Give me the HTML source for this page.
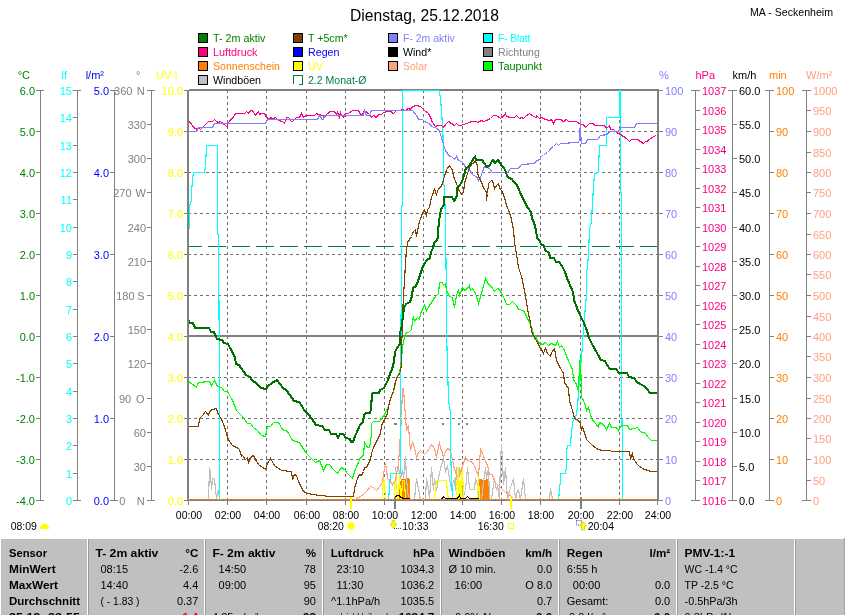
<!DOCTYPE html><html><head><meta charset="utf-8"><title>Dienstag, 25.12.2018</title><style>
html,body{margin:0;padding:0;background:#fff;width:845px;height:615px;overflow:hidden}
svg{display:block;will-change:transform;font-family:"Liberation Sans",Arial,sans-serif;font-size:11px}
</style></head><body>
<svg width="845" height="615" viewBox="0 0 845 615">
<text x="350" y="20.5" fill="#000" font-size="16" textLength="149" lengthAdjust="spacingAndGlyphs">Dienstag, 25.12.2018</text>
<text x="750" y="16" fill="#000" font-size="11.5" textLength="83" lengthAdjust="spacingAndGlyphs">MA - Seckenheim</text>
<g shape-rendering="crispEdges">
<rect x="198.5" y="33.5" width="9" height="9" fill="#008000" stroke="#000"/>
<rect x="198.5" y="47.5" width="9" height="9" fill="#FF0080" stroke="#000"/>
<rect x="198.5" y="61.5" width="9" height="9" fill="#FF8000" stroke="#000"/>
<rect x="198.5" y="75.5" width="9" height="9" fill="#C0C0C0" stroke="#000"/>
<rect x="293.5" y="33.5" width="9" height="9" fill="#804000" stroke="#000"/>
<rect x="293.5" y="47.5" width="9" height="9" fill="#0000FF" stroke="#000"/>
<rect x="293.5" y="61.5" width="9" height="9" fill="#FFFF00" stroke="#000"/>
<path d="M293.5 84V75.5H302.5V84.5H299" fill="none" stroke="#008040"/>
<rect x="388.5" y="33.5" width="9" height="9" fill="#8080FF" stroke="#000"/>
<rect x="388.5" y="47.5" width="9" height="9" fill="#000000" stroke="#000"/>
<rect x="388.5" y="61.5" width="9" height="9" fill="#FFA080" stroke="#000"/>
<rect x="483.5" y="33.5" width="9" height="9" fill="#00FFFF" stroke="#000"/>
<rect x="483.5" y="47.5" width="9" height="9" fill="#808080" stroke="#000"/>
<rect x="483.5" y="61.5" width="9" height="9" fill="#00FF00" stroke="#000"/>
</g>
<text x="213" y="42" fill="#008000" textLength="52.5" lengthAdjust="spacingAndGlyphs">T- 2m aktiv</text>
<text x="213" y="56" fill="#FF0080" textLength="44.5" lengthAdjust="spacingAndGlyphs">Luftdruck</text>
<text x="213" y="70" fill="#FF8000" textLength="67" lengthAdjust="spacingAndGlyphs">Sonnenschein</text>
<text x="213" y="84" fill="#000000" textLength="48" lengthAdjust="spacingAndGlyphs">Windböen</text>
<text x="308" y="42" fill="#008000" textLength="39.6" lengthAdjust="spacingAndGlyphs">T +5cm*</text>
<text x="308" y="56" fill="#0000FF" textLength="31.5" lengthAdjust="spacingAndGlyphs">Regen</text>
<text x="308" y="70" fill="#FFFF00" textLength="15" lengthAdjust="spacingAndGlyphs">UV</text>
<text x="308" y="84" fill="#008040" textLength="58.5" lengthAdjust="spacingAndGlyphs">2.2 Monat-Ø</text>
<text x="403" y="42" fill="#8080FF" textLength="51.7" lengthAdjust="spacingAndGlyphs">F- 2m aktiv</text>
<text x="403" y="56" fill="#000000" textLength="28.3" lengthAdjust="spacingAndGlyphs">Wind*</text>
<text x="403" y="70" fill="#FFA080" textLength="24.5" lengthAdjust="spacingAndGlyphs">Solar</text>
<text x="498" y="42" fill="#00FFFF" textLength="32.4" lengthAdjust="spacingAndGlyphs">F- Blatt</text>
<text x="498" y="56" fill="#808080" textLength="41.8" lengthAdjust="spacingAndGlyphs">Richtung</text>
<text x="498" y="70" fill="#008000" textLength="44" lengthAdjust="spacingAndGlyphs">Taupunkt</text>
<g shape-rendering="crispEdges">
<path d="M40.5 90V501" stroke="#808080" stroke-width="1"/>
<path d="M36 90.5H40" stroke="#808080" stroke-width="1"/>
<path d="M36 131.5H40" stroke="#808080" stroke-width="1"/>
<path d="M36 172.5H40" stroke="#808080" stroke-width="1"/>
<path d="M36 213.5H40" stroke="#808080" stroke-width="1"/>
<path d="M36 254.5H40" stroke="#808080" stroke-width="1"/>
<path d="M36 295.5H40" stroke="#808080" stroke-width="1"/>
<path d="M36 336.5H40" stroke="#808080" stroke-width="1"/>
<path d="M36 377.5H40" stroke="#808080" stroke-width="1"/>
<path d="M36 418.5H40" stroke="#808080" stroke-width="1"/>
<path d="M36 459.5H40" stroke="#808080" stroke-width="1"/>
<path d="M36 500.5H40" stroke="#808080" stroke-width="1"/>
<path d="M36 90.5H44" stroke="#808080" stroke-width="1"/>
<path d="M36 500.5H44" stroke="#808080" stroke-width="1"/>
<path d="M77.5 90V501" stroke="#808080" stroke-width="1"/>
<path d="M73 90.5H77" stroke="#808080" stroke-width="1"/>
<path d="M73 117.5H77" stroke="#808080" stroke-width="1"/>
<path d="M73 145.5H77" stroke="#808080" stroke-width="1"/>
<path d="M73 172.5H77" stroke="#808080" stroke-width="1"/>
<path d="M73 199.5H77" stroke="#808080" stroke-width="1"/>
<path d="M73 227.5H77" stroke="#808080" stroke-width="1"/>
<path d="M73 254.5H77" stroke="#808080" stroke-width="1"/>
<path d="M73 281.5H77" stroke="#808080" stroke-width="1"/>
<path d="M73 309.5H77" stroke="#808080" stroke-width="1"/>
<path d="M73 336.5H77" stroke="#808080" stroke-width="1"/>
<path d="M73 363.5H77" stroke="#808080" stroke-width="1"/>
<path d="M73 391.5H77" stroke="#808080" stroke-width="1"/>
<path d="M73 418.5H77" stroke="#808080" stroke-width="1"/>
<path d="M73 445.5H77" stroke="#808080" stroke-width="1"/>
<path d="M73 473.5H77" stroke="#808080" stroke-width="1"/>
<path d="M73 500.5H77" stroke="#808080" stroke-width="1"/>
<path d="M73 90.5H81" stroke="#808080" stroke-width="1"/>
<path d="M73 500.5H81" stroke="#808080" stroke-width="1"/>
<path d="M114.5 90V501" stroke="#808080" stroke-width="1"/>
<path d="M110 90.5H114" stroke="#808080" stroke-width="1"/>
<path d="M110 172.5H114" stroke="#808080" stroke-width="1"/>
<path d="M110 254.5H114" stroke="#808080" stroke-width="1"/>
<path d="M110 336.5H114" stroke="#808080" stroke-width="1"/>
<path d="M110 418.5H114" stroke="#808080" stroke-width="1"/>
<path d="M110 500.5H114" stroke="#808080" stroke-width="1"/>
<path d="M110 90.5H118" stroke="#808080" stroke-width="1"/>
<path d="M110 500.5H118" stroke="#808080" stroke-width="1"/>
<path d="M151.5 90V501" stroke="#808080" stroke-width="1"/>
<path d="M147 90.5H151" stroke="#808080" stroke-width="1"/>
<path d="M147 124.5H151" stroke="#808080" stroke-width="1"/>
<path d="M147 158.5H151" stroke="#808080" stroke-width="1"/>
<path d="M147 192.5H151" stroke="#808080" stroke-width="1"/>
<path d="M147 227.5H151" stroke="#808080" stroke-width="1"/>
<path d="M147 261.5H151" stroke="#808080" stroke-width="1"/>
<path d="M147 295.5H151" stroke="#808080" stroke-width="1"/>
<path d="M147 329.5H151" stroke="#808080" stroke-width="1"/>
<path d="M147 363.5H151" stroke="#808080" stroke-width="1"/>
<path d="M147 398.5H151" stroke="#808080" stroke-width="1"/>
<path d="M147 432.5H151" stroke="#808080" stroke-width="1"/>
<path d="M147 466.5H151" stroke="#808080" stroke-width="1"/>
<path d="M147 500.5H151" stroke="#808080" stroke-width="1"/>
<path d="M147 90.5H155" stroke="#808080" stroke-width="1"/>
<path d="M147 500.5H155" stroke="#808080" stroke-width="1"/>
<path d="M184 90.5H187" stroke="#808080" stroke-width="1"/>
<path d="M184 131.5H187" stroke="#808080" stroke-width="1"/>
<path d="M184 172.5H187" stroke="#808080" stroke-width="1"/>
<path d="M184 213.5H187" stroke="#808080" stroke-width="1"/>
<path d="M184 254.5H187" stroke="#808080" stroke-width="1"/>
<path d="M184 295.5H187" stroke="#808080" stroke-width="1"/>
<path d="M184 336.5H187" stroke="#808080" stroke-width="1"/>
<path d="M184 377.5H187" stroke="#808080" stroke-width="1"/>
<path d="M184 418.5H187" stroke="#808080" stroke-width="1"/>
<path d="M184 459.5H187" stroke="#808080" stroke-width="1"/>
<path d="M184 500.5H187" stroke="#808080" stroke-width="1"/>
<path d="M695.5 90V501" stroke="#808080" stroke-width="1"/>
<path d="M696 90.5H700" stroke="#808080" stroke-width="1"/>
<path d="M696 110.5H700" stroke="#808080" stroke-width="1"/>
<path d="M696 129.5H700" stroke="#808080" stroke-width="1"/>
<path d="M696 149.5H700" stroke="#808080" stroke-width="1"/>
<path d="M696 168.5H700" stroke="#808080" stroke-width="1"/>
<path d="M696 188.5H700" stroke="#808080" stroke-width="1"/>
<path d="M696 207.5H700" stroke="#808080" stroke-width="1"/>
<path d="M696 227.5H700" stroke="#808080" stroke-width="1"/>
<path d="M696 246.5H700" stroke="#808080" stroke-width="1"/>
<path d="M696 266.5H700" stroke="#808080" stroke-width="1"/>
<path d="M696 285.5H700" stroke="#808080" stroke-width="1"/>
<path d="M696 305.5H700" stroke="#808080" stroke-width="1"/>
<path d="M696 324.5H700" stroke="#808080" stroke-width="1"/>
<path d="M696 344.5H700" stroke="#808080" stroke-width="1"/>
<path d="M696 363.5H700" stroke="#808080" stroke-width="1"/>
<path d="M696 383.5H700" stroke="#808080" stroke-width="1"/>
<path d="M696 402.5H700" stroke="#808080" stroke-width="1"/>
<path d="M696 422.5H700" stroke="#808080" stroke-width="1"/>
<path d="M696 441.5H700" stroke="#808080" stroke-width="1"/>
<path d="M696 461.5H700" stroke="#808080" stroke-width="1"/>
<path d="M696 480.5H700" stroke="#808080" stroke-width="1"/>
<path d="M696 500.5H700" stroke="#808080" stroke-width="1"/>
<path d="M691 90.5H700" stroke="#808080" stroke-width="1"/>
<path d="M691 500.5H700" stroke="#808080" stroke-width="1"/>
<path d="M732.5 90V501" stroke="#808080" stroke-width="1"/>
<path d="M733 90.5H737" stroke="#808080" stroke-width="1"/>
<path d="M733 124.5H737" stroke="#808080" stroke-width="1"/>
<path d="M733 158.5H737" stroke="#808080" stroke-width="1"/>
<path d="M733 192.5H737" stroke="#808080" stroke-width="1"/>
<path d="M733 227.5H737" stroke="#808080" stroke-width="1"/>
<path d="M733 261.5H737" stroke="#808080" stroke-width="1"/>
<path d="M733 295.5H737" stroke="#808080" stroke-width="1"/>
<path d="M733 329.5H737" stroke="#808080" stroke-width="1"/>
<path d="M733 363.5H737" stroke="#808080" stroke-width="1"/>
<path d="M733 398.5H737" stroke="#808080" stroke-width="1"/>
<path d="M733 432.5H737" stroke="#808080" stroke-width="1"/>
<path d="M733 466.5H737" stroke="#808080" stroke-width="1"/>
<path d="M733 500.5H737" stroke="#808080" stroke-width="1"/>
<path d="M728 90.5H737" stroke="#808080" stroke-width="1"/>
<path d="M728 500.5H737" stroke="#808080" stroke-width="1"/>
<path d="M769.5 90V501" stroke="#808080" stroke-width="1"/>
<path d="M770 90.5H774" stroke="#808080" stroke-width="1"/>
<path d="M770 131.5H774" stroke="#808080" stroke-width="1"/>
<path d="M770 172.5H774" stroke="#808080" stroke-width="1"/>
<path d="M770 213.5H774" stroke="#808080" stroke-width="1"/>
<path d="M770 254.5H774" stroke="#808080" stroke-width="1"/>
<path d="M770 295.5H774" stroke="#808080" stroke-width="1"/>
<path d="M770 336.5H774" stroke="#808080" stroke-width="1"/>
<path d="M770 377.5H774" stroke="#808080" stroke-width="1"/>
<path d="M770 418.5H774" stroke="#808080" stroke-width="1"/>
<path d="M770 459.5H774" stroke="#808080" stroke-width="1"/>
<path d="M770 500.5H774" stroke="#808080" stroke-width="1"/>
<path d="M765 90.5H774" stroke="#808080" stroke-width="1"/>
<path d="M765 500.5H774" stroke="#808080" stroke-width="1"/>
<path d="M806.5 90V501" stroke="#808080" stroke-width="1"/>
<path d="M807 90.5H811" stroke="#808080" stroke-width="1"/>
<path d="M807 110.5H811" stroke="#808080" stroke-width="1"/>
<path d="M807 131.5H811" stroke="#808080" stroke-width="1"/>
<path d="M807 152.5H811" stroke="#808080" stroke-width="1"/>
<path d="M807 172.5H811" stroke="#808080" stroke-width="1"/>
<path d="M807 192.5H811" stroke="#808080" stroke-width="1"/>
<path d="M807 213.5H811" stroke="#808080" stroke-width="1"/>
<path d="M807 234.5H811" stroke="#808080" stroke-width="1"/>
<path d="M807 254.5H811" stroke="#808080" stroke-width="1"/>
<path d="M807 274.5H811" stroke="#808080" stroke-width="1"/>
<path d="M807 295.5H811" stroke="#808080" stroke-width="1"/>
<path d="M807 316.5H811" stroke="#808080" stroke-width="1"/>
<path d="M807 336.5H811" stroke="#808080" stroke-width="1"/>
<path d="M807 356.5H811" stroke="#808080" stroke-width="1"/>
<path d="M807 377.5H811" stroke="#808080" stroke-width="1"/>
<path d="M807 398.5H811" stroke="#808080" stroke-width="1"/>
<path d="M807 418.5H811" stroke="#808080" stroke-width="1"/>
<path d="M807 438.5H811" stroke="#808080" stroke-width="1"/>
<path d="M807 459.5H811" stroke="#808080" stroke-width="1"/>
<path d="M807 480.5H811" stroke="#808080" stroke-width="1"/>
<path d="M807 500.5H811" stroke="#808080" stroke-width="1"/>
<path d="M802 90.5H811" stroke="#808080" stroke-width="1"/>
<path d="M802 500.5H811" stroke="#808080" stroke-width="1"/>
<path d="M659 90.5H663" stroke="#808080" stroke-width="1"/>
<path d="M659 131.5H663" stroke="#808080" stroke-width="1"/>
<path d="M659 172.5H663" stroke="#808080" stroke-width="1"/>
<path d="M659 213.5H663" stroke="#808080" stroke-width="1"/>
<path d="M659 254.5H663" stroke="#808080" stroke-width="1"/>
<path d="M659 295.5H663" stroke="#808080" stroke-width="1"/>
<path d="M659 336.5H663" stroke="#808080" stroke-width="1"/>
<path d="M659 377.5H663" stroke="#808080" stroke-width="1"/>
<path d="M659 418.5H663" stroke="#808080" stroke-width="1"/>
<path d="M659 459.5H663" stroke="#808080" stroke-width="1"/>
<path d="M659 500.5H663" stroke="#808080" stroke-width="1"/>
<path d="M655 90.5H663" stroke="#808080" stroke-width="1"/>
<path d="M655 500.5H663" stroke="#808080" stroke-width="1"/>
<path d="M227.5 90V500" stroke="#707070" stroke-width="1" stroke-dasharray="3 3"/>
<path d="M266.5 90V500" stroke="#707070" stroke-width="1" stroke-dasharray="3 3"/>
<path d="M306.5 90V500" stroke="#707070" stroke-width="1" stroke-dasharray="3 3"/>
<path d="M345.5 90V500" stroke="#707070" stroke-width="1" stroke-dasharray="3 3"/>
<path d="M384.5 90V500" stroke="#707070" stroke-width="1" stroke-dasharray="3 3"/>
<path d="M423.5 90V500" stroke="#707070" stroke-width="1" stroke-dasharray="3 3"/>
<path d="M462.5 90V500" stroke="#707070" stroke-width="1" stroke-dasharray="3 3"/>
<path d="M501.5 90V500" stroke="#707070" stroke-width="1" stroke-dasharray="3 3"/>
<path d="M540.5 90V500" stroke="#707070" stroke-width="1" stroke-dasharray="3 3"/>
<path d="M580.5 90V500" stroke="#707070" stroke-width="1" stroke-dasharray="3 3"/>
<path d="M619.5 90V500" stroke="#707070" stroke-width="1" stroke-dasharray="3 3"/>
<path d="M188 131.5H657" stroke="#707070" stroke-width="1" stroke-dasharray="3 3"/>
<path d="M188 172.5H657" stroke="#707070" stroke-width="1" stroke-dasharray="3 3"/>
<path d="M188 213.5H657" stroke="#707070" stroke-width="1" stroke-dasharray="3 3"/>
<path d="M188 254.5H657" stroke="#707070" stroke-width="1" stroke-dasharray="3 3"/>
<path d="M188 295.5H657" stroke="#707070" stroke-width="1" stroke-dasharray="3 3"/>
<path d="M188 377.5H657" stroke="#707070" stroke-width="1" stroke-dasharray="3 3"/>
<path d="M188 418.5H657" stroke="#707070" stroke-width="1" stroke-dasharray="3 3"/>
<path d="M188 459.5H657" stroke="#707070" stroke-width="1" stroke-dasharray="3 3"/>
<path d="M189 336.0H657" stroke="#808080" stroke-width="2"/>
<path d="M188.5 501V505" stroke="#808080" stroke-width="1"/>
<path d="M227.5 501V505" stroke="#808080" stroke-width="1"/>
<path d="M266.5 501V505" stroke="#808080" stroke-width="1"/>
<path d="M306.5 501V505" stroke="#808080" stroke-width="1"/>
<path d="M345.5 501V505" stroke="#808080" stroke-width="1"/>
<path d="M384.5 501V505" stroke="#808080" stroke-width="1"/>
<path d="M423.5 501V505" stroke="#808080" stroke-width="1"/>
<path d="M462.5 501V505" stroke="#808080" stroke-width="1"/>
<path d="M501.5 501V505" stroke="#808080" stroke-width="1"/>
<path d="M540.5 501V505" stroke="#808080" stroke-width="1"/>
<path d="M580.5 501V505" stroke="#808080" stroke-width="1"/>
<path d="M619.5 501V505" stroke="#808080" stroke-width="1"/>
<path d="M657.5 501V505" stroke="#808080" stroke-width="1"/>
<path d="M188.0 90V501" stroke="#808080" stroke-width="2"/>
<path d="M658.0 89V501" stroke="#808080" stroke-width="2"/>
<path d="M189 90.0H657" stroke="#808080" stroke-width="2"/>
<path d="M187 500.0H659" stroke="#808080" stroke-width="2"/>
</g>
<text x="35" y="94.5" fill="#008000" text-anchor="end">6.0</text>
<text x="35" y="135.5" fill="#008000" text-anchor="end">5.0</text>
<text x="35" y="176.5" fill="#008000" text-anchor="end">4.0</text>
<text x="35" y="217.5" fill="#008000" text-anchor="end">3.0</text>
<text x="35" y="258.5" fill="#008000" text-anchor="end">2.0</text>
<text x="35" y="299.5" fill="#008000" text-anchor="end">1.0</text>
<text x="35" y="340.5" fill="#008000" text-anchor="end">0.0</text>
<text x="35" y="381.5" fill="#008000" text-anchor="end">-1.0</text>
<text x="35" y="422.5" fill="#008000" text-anchor="end">-2.0</text>
<text x="35" y="463.5" fill="#008000" text-anchor="end">-3.0</text>
<text x="35" y="504.5" fill="#008000" text-anchor="end">-4.0</text>
<text x="72" y="94.5" fill="#00FFFF" text-anchor="end">15</text>
<text x="72" y="121.5" fill="#00FFFF" text-anchor="end">14</text>
<text x="72" y="149.5" fill="#00FFFF" text-anchor="end">13</text>
<text x="72" y="176.5" fill="#00FFFF" text-anchor="end">12</text>
<text x="72" y="203.5" fill="#00FFFF" text-anchor="end">11</text>
<text x="72" y="231.5" fill="#00FFFF" text-anchor="end">10</text>
<text x="72" y="258.5" fill="#00FFFF" text-anchor="end">9</text>
<text x="72" y="285.5" fill="#00FFFF" text-anchor="end">8</text>
<text x="72" y="313.5" fill="#00FFFF" text-anchor="end">7</text>
<text x="72" y="340.5" fill="#00FFFF" text-anchor="end">6</text>
<text x="72" y="367.5" fill="#00FFFF" text-anchor="end">5</text>
<text x="72" y="395.5" fill="#00FFFF" text-anchor="end">4</text>
<text x="72" y="422.5" fill="#00FFFF" text-anchor="end">3</text>
<text x="72" y="449.5" fill="#00FFFF" text-anchor="end">2</text>
<text x="72" y="477.5" fill="#00FFFF" text-anchor="end">1</text>
<text x="72" y="504.5" fill="#00FFFF" text-anchor="end">0</text>
<text x="109" y="94.5" fill="#0000FF" text-anchor="end">5.0</text>
<text x="109" y="176.5" fill="#0000FF" text-anchor="end">4.0</text>
<text x="109" y="258.5" fill="#0000FF" text-anchor="end">3.0</text>
<text x="109" y="340.5" fill="#0000FF" text-anchor="end">2.0</text>
<text x="109" y="422.5" fill="#0000FF" text-anchor="end">1.0</text>
<text x="109" y="504.5" fill="#0000FF" text-anchor="end">0.0</text>
<text x="183" y="94.5" fill="#FFFF00" text-anchor="end">10.0</text>
<text x="183" y="135.5" fill="#FFFF00" text-anchor="end">9.0</text>
<text x="183" y="176.5" fill="#FFFF00" text-anchor="end">8.0</text>
<text x="183" y="217.5" fill="#FFFF00" text-anchor="end">7.0</text>
<text x="183" y="258.5" fill="#FFFF00" text-anchor="end">6.0</text>
<text x="183" y="299.5" fill="#FFFF00" text-anchor="end">5.0</text>
<text x="183" y="340.5" fill="#FFFF00" text-anchor="end">4.0</text>
<text x="183" y="381.5" fill="#FFFF00" text-anchor="end">3.0</text>
<text x="183" y="422.5" fill="#FFFF00" text-anchor="end">2.0</text>
<text x="183" y="463.5" fill="#FFFF00" text-anchor="end">1.0</text>
<text x="183" y="504.5" fill="#FFFF00" text-anchor="end">0.0</text>
<text x="132.4" y="94.5" fill="#808080" text-anchor="end">360</text>
<text x="144.6" y="94.5" fill="#808080" text-anchor="end">N</text>
<text x="146" y="128.5" fill="#808080" text-anchor="end">330</text>
<text x="146" y="162.5" fill="#808080" text-anchor="end">300</text>
<text x="131.6" y="196.5" fill="#808080" text-anchor="end">270</text>
<text x="146" y="196.5" fill="#808080" text-anchor="end">W</text>
<text x="146" y="231.5" fill="#808080" text-anchor="end">240</text>
<text x="146" y="265.5" fill="#808080" text-anchor="end">210</text>
<text x="134.6" y="299.5" fill="#808080" text-anchor="end">180</text>
<text x="144.6" y="299.5" fill="#808080" text-anchor="end">S</text>
<text x="146" y="333.5" fill="#808080" text-anchor="end">150</text>
<text x="146" y="367.5" fill="#808080" text-anchor="end">120</text>
<text x="131.2" y="402.5" fill="#808080" text-anchor="end">90</text>
<text x="144.6" y="402.5" fill="#808080" text-anchor="end">O</text>
<text x="146" y="436.5" fill="#808080" text-anchor="end">60</text>
<text x="146" y="470.5" fill="#808080" text-anchor="end">30</text>
<text x="125.4" y="504.5" fill="#808080" text-anchor="end">0</text>
<text x="144.6" y="504.5" fill="#808080" text-anchor="end">N</text>
<text x="665" y="94.5" fill="#8080FF">100</text>
<text x="665" y="135.5" fill="#8080FF">90</text>
<text x="665" y="176.5" fill="#8080FF">80</text>
<text x="665" y="217.5" fill="#8080FF">70</text>
<text x="665" y="258.5" fill="#8080FF">60</text>
<text x="665" y="299.5" fill="#8080FF">50</text>
<text x="665" y="340.5" fill="#8080FF">40</text>
<text x="665" y="381.5" fill="#8080FF">30</text>
<text x="665" y="422.5" fill="#8080FF">20</text>
<text x="665" y="463.5" fill="#8080FF">10</text>
<text x="665" y="504.5" fill="#8080FF">0</text>
<text x="702" y="94.5" fill="#FF0080">1037</text>
<text x="702" y="114.5" fill="#FF0080">1036</text>
<text x="702" y="133.5" fill="#FF0080">1035</text>
<text x="702" y="153.5" fill="#FF0080">1034</text>
<text x="702" y="172.5" fill="#FF0080">1033</text>
<text x="702" y="192.5" fill="#FF0080">1032</text>
<text x="702" y="211.5" fill="#FF0080">1031</text>
<text x="702" y="231.5" fill="#FF0080">1030</text>
<text x="702" y="250.5" fill="#FF0080">1029</text>
<text x="702" y="270.5" fill="#FF0080">1028</text>
<text x="702" y="289.5" fill="#FF0080">1027</text>
<text x="702" y="309.5" fill="#FF0080">1026</text>
<text x="702" y="328.5" fill="#FF0080">1025</text>
<text x="702" y="348.5" fill="#FF0080">1024</text>
<text x="702" y="367.5" fill="#FF0080">1023</text>
<text x="702" y="387.5" fill="#FF0080">1022</text>
<text x="702" y="406.5" fill="#FF0080">1021</text>
<text x="702" y="426.5" fill="#FF0080">1020</text>
<text x="702" y="445.5" fill="#FF0080">1019</text>
<text x="702" y="465.5" fill="#FF0080">1018</text>
<text x="702" y="484.5" fill="#FF0080">1017</text>
<text x="702" y="504.5" fill="#FF0080">1016</text>
<text x="739" y="94.5" fill="#000000">60.0</text>
<text x="739" y="128.5" fill="#000000">55.0</text>
<text x="739" y="162.5" fill="#000000">50.0</text>
<text x="739" y="196.5" fill="#000000">45.0</text>
<text x="739" y="231.5" fill="#000000">40.0</text>
<text x="739" y="265.5" fill="#000000">35.0</text>
<text x="739" y="299.5" fill="#000000">30.0</text>
<text x="739" y="333.5" fill="#000000">25.0</text>
<text x="739" y="367.5" fill="#000000">20.0</text>
<text x="739" y="402.5" fill="#000000">15.0</text>
<text x="739" y="436.5" fill="#000000">10.0</text>
<text x="739" y="470.5" fill="#000000">5.0</text>
<text x="739" y="504.5" fill="#000000">0.0</text>
<text x="776" y="94.5" fill="#FF8000">100</text>
<text x="776" y="135.5" fill="#FF8000">90</text>
<text x="776" y="176.5" fill="#FF8000">80</text>
<text x="776" y="217.5" fill="#FF8000">70</text>
<text x="776" y="258.5" fill="#FF8000">60</text>
<text x="776" y="299.5" fill="#FF8000">50</text>
<text x="776" y="340.5" fill="#FF8000">40</text>
<text x="776" y="381.5" fill="#FF8000">30</text>
<text x="776" y="422.5" fill="#FF8000">20</text>
<text x="776" y="463.5" fill="#FF8000">10</text>
<text x="776" y="504.5" fill="#FF8000">0</text>
<text x="813" y="94.5" fill="#FFA080">1000</text>
<text x="813" y="114.5" fill="#FFA080">950</text>
<text x="813" y="135.5" fill="#FFA080">900</text>
<text x="813" y="156.5" fill="#FFA080">850</text>
<text x="813" y="176.5" fill="#FFA080">800</text>
<text x="813" y="196.5" fill="#FFA080">750</text>
<text x="813" y="217.5" fill="#FFA080">700</text>
<text x="813" y="238.5" fill="#FFA080">650</text>
<text x="813" y="258.5" fill="#FFA080">600</text>
<text x="813" y="278.5" fill="#FFA080">550</text>
<text x="813" y="299.5" fill="#FFA080">500</text>
<text x="813" y="320.5" fill="#FFA080">450</text>
<text x="813" y="340.5" fill="#FFA080">400</text>
<text x="813" y="360.5" fill="#FFA080">350</text>
<text x="813" y="381.5" fill="#FFA080">300</text>
<text x="813" y="402.5" fill="#FFA080">250</text>
<text x="813" y="422.5" fill="#FFA080">200</text>
<text x="813" y="442.5" fill="#FFA080">150</text>
<text x="813" y="463.5" fill="#FFA080">100</text>
<text x="813" y="484.5" fill="#FFA080">50</text>
<text x="813" y="504.5" fill="#FFA080">0</text>
<text x="30" y="79" fill="#008000" text-anchor="end">°C</text>
<text x="67" y="79" fill="#00FFFF" text-anchor="end">lf</text>
<text x="104" y="79" fill="#0000FF" text-anchor="end">l/m²</text>
<text x="140.5" y="79" fill="#808080" text-anchor="end">°</text>
<text x="177.5" y="79" fill="#FFFF00" text-anchor="end">UV-I</text>
<text x="659" y="79" fill="#8080FF">%</text>
<text x="695.5" y="79" fill="#FF0080">hPa</text>
<text x="732.5" y="79" fill="#000000">km/h</text>
<text x="769" y="79" fill="#FF8000">min</text>
<text x="806" y="79" fill="#FFA080">W/m²</text>
<text x="189" y="518.5" fill="#000" text-anchor="middle" textLength="26.3" lengthAdjust="spacingAndGlyphs">00:00</text>
<text x="228" y="518.5" fill="#000" text-anchor="middle" textLength="26.3" lengthAdjust="spacingAndGlyphs">02:00</text>
<text x="267" y="518.5" fill="#000" text-anchor="middle" textLength="26.3" lengthAdjust="spacingAndGlyphs">04:00</text>
<text x="307" y="518.5" fill="#000" text-anchor="middle" textLength="26.3" lengthAdjust="spacingAndGlyphs">06:00</text>
<text x="346" y="518.5" fill="#000" text-anchor="middle" textLength="26.3" lengthAdjust="spacingAndGlyphs">08:00</text>
<text x="385" y="518.5" fill="#000" text-anchor="middle" textLength="26.3" lengthAdjust="spacingAndGlyphs">10:00</text>
<text x="424" y="518.5" fill="#000" text-anchor="middle" textLength="26.3" lengthAdjust="spacingAndGlyphs">12:00</text>
<text x="463" y="518.5" fill="#000" text-anchor="middle" textLength="26.3" lengthAdjust="spacingAndGlyphs">14:00</text>
<text x="502" y="518.5" fill="#000" text-anchor="middle" textLength="26.3" lengthAdjust="spacingAndGlyphs">16:00</text>
<text x="541" y="518.5" fill="#000" text-anchor="middle" textLength="26.3" lengthAdjust="spacingAndGlyphs">18:00</text>
<text x="581" y="518.5" fill="#000" text-anchor="middle" textLength="26.3" lengthAdjust="spacingAndGlyphs">20:00</text>
<text x="620" y="518.5" fill="#000" text-anchor="middle" textLength="26.3" lengthAdjust="spacingAndGlyphs">22:00</text>
<text x="658" y="518.5" fill="#000" text-anchor="middle" textLength="26.3" lengthAdjust="spacingAndGlyphs">24:00</text>
<defs><clipPath id="cp"><rect x="189" y="90" width="468" height="410"/></clipPath></defs>
<g clip-path="url(#cp)" fill="none" stroke-linejoin="miter" shape-rendering="crispEdges">
<path d="M184 246.5H657" stroke="#008040" stroke-width="1" stroke-dasharray="18 6" shape-rendering="crispEdges"/>
<polygon points="399.5,499.5 399.5,484.5 401.5,479.5 404.5,479.5 405.5,479.5 407.5,478.5 409.5,479.5 409.5,499.5" fill="#FF8000" stroke="#FF8000" stroke-width="1"/>
<polygon points="479.5,499.5 479.5,479.5 481.5,479.5 482.5,481.5 483.5,479.5 485.5,481.5 486.5,479.5 488.5,480.5 488.5,499.5" fill="#FF8000" stroke="#FF8000" stroke-width="1"/>
<polyline points="208.5,499.5 209.5,467.5 210.5,473.5 211.5,489.5 212.5,478.5 214.5,478.5 216.5,499.5 218.5,489.5 219.5,499.5" stroke="#C0C0C0" stroke-width="1.15"/>
<polyline points="394.5,499.5 395.5,467.5 398.5,467.5 400.5,478.5 402.5,470.5 403.5,478.5 405.5,456.5 406.5,478.5 408.5,499.5 414.5,499.5 416.5,478.5 419.5,494.5 420.5,499.5 425.5,499.5 426.5,478.5 428.5,489.5 429.5,499.5 431.5,467.5 432.5,478.5 433.5,490.5 434.5,478.5 436.5,490.5 438.5,478.5 440.5,468.5 443.5,458.5 445.5,471.5 447.5,466.5 449.5,478.5 451.5,488.5 452.5,484.5 454.5,478.5 455.5,490.5 456.5,467.5 458.5,485.5 459.5,467.5 461.5,476.5 462.5,499.5 465.5,490.5 467.5,467.5 469.5,488.5 470.5,489.5 474.5,489.5 475.5,478.5 477.5,484.5 478.5,499.5 481.5,499.5 483.5,482.5 485.5,467.5 486.5,478.5 488.5,467.5 489.5,499.5 491.5,499.5 493.5,484.5 494.5,478.5 496.5,490.5 497.5,484.5 499.5,499.5 500.5,460.5 501.5,444.5 502.5,460.5 503.5,484.5 505.5,467.5 506.5,484.5 507.5,499.5 509.5,490.5 511.5,484.5 513.5,478.5 515.5,499.5 517.5,490.5 518.5,489.5 520.5,499.5 522.5,484.5 523.5,478.5 525.5,499.5" stroke="#C0C0C0" stroke-width="1.15"/>
<polyline points="549.5,499.5 550.5,488.5 552.5,499.5" stroke="#C0C0C0" stroke-width="1.15"/>
<polyline points="382.5,499.5 383.5,475.5 384.5,484.5 385.5,499.5" stroke="#FFFF00" stroke-width="1.15"/>
<polyline points="394.5,499.5 395.5,471.5 397.5,499.5" stroke="#FFFF00" stroke-width="1.15"/>
<polyline points="398.5,499.5 399.5,473.5 400.5,499.5" stroke="#FFFF00" stroke-width="1.15"/>
<polyline points="401.5,499.5 402.5,480.5 404.5,480.5 405.5,499.5" stroke="#FFFF00" stroke-width="1.15"/>
<polyline points="434.5,499.5 436.5,480.5 446.5,480.5 447.5,493.5 448.5,499.5" stroke="#FFFF00" stroke-width="1.15"/>
<polyline points="456.5,499.5 457.5,467.5 458.5,499.5 458.5,467.5 459.5,499.5" stroke="#FFFF00" stroke-width="1.15"/>
<polyline points="460.5,499.5 461.5,467.5 461.5,499.5 462.5,467.5 463.5,499.5" stroke="#FFFF00" stroke-width="1.15"/>
<polyline points="477.5,499.5 478.5,475.5 479.5,499.5" stroke="#FFFF00" stroke-width="1.15"/>
<polyline points="355.5,499.5 358.5,497.5 363.5,494.5 366.5,491.5 370.5,486.5 373.5,487.5 376.5,490.5 379.5,486.5 382.5,482.5 383.5,474.5 385.5,463.5 386.5,469.5 387.5,478.5 390.5,481.5 392.5,484.5 393.5,482.5 395.5,480.5 398.5,463.5 399.5,448.5 401.5,417.5 402.5,388.5 403.5,388.5 405.5,417.5 406.5,430.5 408.5,425.5 409.5,440.5 410.5,450.5 412.5,442.5 414.5,447.5 416.5,457.5 418.5,452.5 420.5,450.5 422.5,452.5 424.5,454.5 427.5,451.5 431.5,444.5 434.5,448.5 436.5,457.5 439.5,441.5 440.5,448.5 442.5,452.5 443.5,457.5 445.5,451.5 447.5,448.5 449.5,449.5 451.5,454.5 453.5,465.5 456.5,475.5 459.5,476.5 463.5,462.5 465.5,457.5 467.5,460.5 470.5,461.5 473.5,463.5 476.5,471.5 478.5,475.5 480.5,449.5 482.5,453.5 485.5,461.5 487.5,465.5 489.5,474.5 492.5,474.5 494.5,481.5 497.5,484.5 501.5,488.5 505.5,492.5 510.5,495.5 513.5,498.5" stroke="#FFA080" stroke-width="1.15"/>
<polyline points="189.5,228.5 189.5,219.5 189.5,206.5 191.5,199.5 191.5,192.5 192.5,179.5 193.5,172.5 204.5,172.5 205.5,166.5 206.5,145.5 217.5,145.5 217.5,233.5 218.5,235.5 219.5,380.5 219.5,500.5" stroke="#00FFFF" stroke-width="1.15"/>
<polyline points="388.5,500.5 390.5,473.5 400.5,473.5 401.5,205.5 402.5,205.5 402.5,90.5 439.5,90.5 441.5,109.5 442.5,127.5 443.5,145.5 443.5,184.5 444.5,186.5 445.5,225.5 446.5,300.5 446.5,330.5 448.5,400.5 450.5,412.5 450.5,451.5 452.5,500.5" stroke="#00FFFF" stroke-width="1.15"/>
<polyline points="558.5,500.5 560.5,479.5 560.5,473.5 565.5,473.5 566.5,465.5 566.5,451.5 567.5,445.5 570.5,445.5 571.5,431.5 573.5,418.5 575.5,418.5 577.5,408.5 578.5,390.5 582.5,345.5 582.5,342.5 584.5,316.5 586.5,294.5 586.5,274.5 588.5,255.5 589.5,227.5 590.5,226.5 591.5,220.5 593.5,186.5 594.5,173.5 598.5,172.5 598.5,168.5 599.5,145.5 606.5,145.5 606.5,117.5 617.5,117.5 619.5,117.5 619.5,90.5 620.5,90.5 620.5,192.5 621.5,192.5 621.5,345.5 621.5,397.5 622.5,445.5 622.5,500.5" stroke="#00FFFF" stroke-width="1.15"/>
<polyline points="188.5,121.5 190.5,122.5 193.5,127.5 195.5,128.5 197.5,129.5 198.5,127.5 200.5,129.5 205.5,124.5 208.5,121.5 212.5,121.5 214.5,119.5 216.5,121.5 218.5,122.5 220.5,121.5 221.5,122.5 224.5,124.5 227.5,127.5 227.5,124.5 230.5,119.5 232.5,118.5 235.5,113.5 244.5,113.5 246.5,111.5 248.5,113.5 250.5,110.5 252.5,110.5 255.5,115.5 258.5,111.5 259.5,114.5 261.5,113.5 264.5,113.5 265.5,115.5 267.5,118.5 269.5,118.5 271.5,117.5 272.5,119.5 275.5,117.5 278.5,120.5 282.5,121.5 284.5,123.5 286.5,117.5 288.5,117.5 291.5,121.5 292.5,121.5 296.5,117.5 299.5,117.5 301.5,113.5 303.5,117.5 304.5,116.5 306.5,115.5 314.5,115.5 316.5,113.5 318.5,114.5 323.5,115.5 324.5,117.5 327.5,113.5 330.5,111.5 334.5,111.5 336.5,114.5 337.5,112.5 339.5,117.5 340.5,112.5 341.5,115.5 343.5,117.5 345.5,113.5 348.5,113.5 352.5,110.5 358.5,110.5 360.5,114.5 362.5,114.5 364.5,110.5 369.5,114.5 371.5,117.5 373.5,115.5 376.5,117.5 378.5,114.5 381.5,114.5 383.5,112.5 387.5,111.5 390.5,111.5 393.5,113.5 396.5,110.5 399.5,110.5 402.5,109.5 405.5,110.5 408.5,108.5 410.5,109.5 412.5,106.5 416.5,105.5 420.5,106.5 422.5,108.5 424.5,110.5 428.5,113.5 430.5,117.5 432.5,122.5 435.5,126.5 437.5,125.5 441.5,125.5 443.5,127.5 445.5,124.5 448.5,121.5 451.5,123.5 454.5,125.5 456.5,123.5 458.5,125.5 460.5,125.5 463.5,124.5 466.5,123.5 469.5,122.5 471.5,121.5 476.5,121.5 477.5,122.5 481.5,120.5 483.5,121.5 486.5,120.5 488.5,119.5 490.5,118.5 493.5,115.5 496.5,115.5 500.5,118.5 501.5,117.5 503.5,116.5 505.5,113.5 506.5,116.5 510.5,117.5 514.5,117.5 516.5,115.5 519.5,118.5 521.5,117.5 523.5,118.5 525.5,116.5 529.5,113.5 533.5,116.5 536.5,117.5 536.5,115.5 539.5,118.5 541.5,117.5 545.5,119.5 549.5,120.5 551.5,119.5 553.5,123.5 555.5,119.5 560.5,119.5 563.5,121.5 566.5,119.5 568.5,121.5 574.5,121.5 576.5,121.5 580.5,124.5 583.5,124.5 585.5,127.5 589.5,123.5 593.5,123.5 594.5,125.5 604.5,125.5 606.5,128.5 609.5,125.5 610.5,129.5 613.5,129.5 616.5,132.5 620.5,134.5 623.5,136.5 626.5,138.5 629.5,141.5 631.5,139.5 637.5,139.5 640.5,141.5 643.5,143.5 645.5,141.5 646.5,141.5 649.5,139.5 653.5,136.5 656.5,135.5" stroke="#FF0080" stroke-width="1.15"/>
<polyline points="188.5,131.5 196.5,131.5 198.5,127.5 212.5,127.5 214.5,123.5 265.5,123.5 267.5,119.5 317.5,119.5 319.5,115.5 320.5,115.5 321.5,119.5 323.5,119.5 324.5,115.5 363.5,115.5 364.5,110.5 366.5,115.5 369.5,115.5 371.5,110.5 412.5,110.5 416.5,115.5 418.5,119.5 422.5,119.5 424.5,121.5 426.5,122.5 429.5,123.5 431.5,126.5 434.5,127.5 437.5,128.5 439.5,131.5 441.5,137.5 443.5,144.5 445.5,150.5 449.5,156.5 451.5,156.5 454.5,159.5 456.5,156.5 458.5,160.5 461.5,161.5 463.5,163.5 465.5,167.5 468.5,168.5 470.5,171.5 473.5,175.5 476.5,176.5 478.5,180.5 480.5,177.5 482.5,171.5 484.5,166.5 489.5,168.5 492.5,172.5 505.5,172.5 507.5,172.5 510.5,168.5 518.5,168.5 521.5,164.5 534.5,163.5 536.5,160.5 540.5,159.5 540.5,156.5 543.5,155.5 545.5,153.5 547.5,152.5 549.5,150.5 550.5,148.5 553.5,146.5 554.5,145.5 556.5,143.5 558.5,145.5 560.5,143.5 577.5,142.5 579.5,141.5 580.5,119.5 580.5,132.5 581.5,143.5 585.5,143.5 587.5,139.5 597.5,139.5 600.5,135.5 607.5,134.5 609.5,131.5 618.5,131.5 620.5,127.5 634.5,127.5 636.5,123.5 656.5,123.5" stroke="#8080FF" stroke-width="1.15"/>
<polyline points="188.5,381.5 191.5,383.5 196.5,387.5 198.5,382.5 209.5,381.5 211.5,385.5 214.5,380.5 217.5,386.5 221.5,387.5 224.5,391.5 227.5,391.5 232.5,400.5 236.5,410.5 241.5,415.5 244.5,419.5 247.5,423.5 250.5,423.5 253.5,427.5 257.5,430.5 261.5,435.5 265.5,436.5 267.5,426.5 270.5,426.5 273.5,422.5 278.5,422.5 282.5,429.5 287.5,431.5 292.5,440.5 299.5,442.5 300.5,444.5 306.5,453.5 312.5,459.5 315.5,462.5 319.5,460.5 323.5,470.5 326.5,464.5 329.5,464.5 332.5,468.5 337.5,473.5 341.5,467.5 344.5,469.5 347.5,473.5 352.5,478.5 354.5,471.5 357.5,464.5 360.5,457.5 363.5,455.5 364.5,442.5 367.5,447.5 369.5,447.5 371.5,434.5 371.5,423.5 373.5,421.5 379.5,421.5 382.5,417.5 384.5,414.5 388.5,406.5 391.5,395.5 394.5,388.5 396.5,378.5 399.5,372.5 401.5,359.5 402.5,347.5 404.5,337.5 406.5,332.5 408.5,332.5 411.5,329.5 412.5,321.5 413.5,316.5 414.5,321.5 417.5,317.5 419.5,319.5 420.5,313.5 424.5,305.5 426.5,310.5 429.5,305.5 435.5,296.5 438.5,293.5 439.5,282.5 442.5,282.5 443.5,285.5 445.5,283.5 446.5,290.5 449.5,296.5 452.5,297.5 454.5,307.5 456.5,295.5 458.5,289.5 459.5,295.5 462.5,287.5 464.5,290.5 467.5,288.5 469.5,285.5 470.5,290.5 472.5,288.5 475.5,293.5 476.5,296.5 478.5,303.5 482.5,289.5 485.5,278.5 488.5,284.5 491.5,286.5 494.5,291.5 497.5,288.5 499.5,289.5 501.5,293.5 503.5,296.5 506.5,304.5 509.5,304.5 512.5,301.5 516.5,305.5 518.5,309.5 523.5,310.5 526.5,316.5 529.5,322.5 532.5,329.5 533.5,334.5 535.5,336.5 538.5,342.5 542.5,344.5 545.5,342.5 548.5,345.5 551.5,343.5 555.5,345.5 557.5,341.5 559.5,347.5 561.5,345.5 564.5,350.5 567.5,358.5 572.5,369.5 573.5,379.5 576.5,384.5 578.5,391.5 579.5,365.5 580.5,355.5 581.5,397.5 582.5,398.5 585.5,405.5 586.5,410.5 588.5,407.5 591.5,418.5 595.5,423.5 598.5,427.5 599.5,422.5 603.5,424.5 606.5,429.5 609.5,423.5 611.5,427.5 616.5,427.5 618.5,430.5 621.5,425.5 627.5,425.5 629.5,429.5 634.5,428.5 637.5,427.5 640.5,431.5 645.5,433.5 648.5,437.5 651.5,440.5 656.5,440.5" stroke="#00FF00" stroke-width="1.15"/>
<polyline points="188.5,426.5 198.5,426.5 199.5,418.5 202.5,415.5 205.5,411.5 208.5,415.5 209.5,411.5 212.5,409.5 216.5,408.5 217.5,412.5 221.5,419.5 224.5,426.5 227.5,437.5 229.5,441.5 232.5,445.5 238.5,448.5 239.5,449.5 241.5,456.5 242.5,455.5 245.5,459.5 247.5,457.5 248.5,462.5 250.5,457.5 253.5,455.5 255.5,459.5 258.5,464.5 265.5,469.5 267.5,463.5 270.5,458.5 274.5,465.5 281.5,470.5 291.5,471.5 292.5,479.5 294.5,474.5 296.5,475.5 298.5,481.5 301.5,487.5 303.5,491.5 307.5,493.5 312.5,494.5 320.5,495.5 330.5,496.5 353.5,496.5 354.5,488.5 357.5,478.5 359.5,474.5 361.5,475.5 363.5,471.5 364.5,467.5 366.5,467.5 368.5,463.5 370.5,459.5 371.5,453.5 373.5,447.5 377.5,439.5 380.5,433.5 381.5,425.5 384.5,419.5 387.5,413.5 388.5,406.5 390.5,398.5 393.5,391.5 395.5,381.5 397.5,376.5 400.5,372.5 401.5,362.5 401.5,344.5 402.5,330.5 402.5,315.5 403.5,296.5 404.5,280.5 405.5,262.5 406.5,250.5 407.5,242.5 411.5,236.5 413.5,231.5 415.5,229.5 416.5,236.5 418.5,226.5 419.5,221.5 422.5,213.5 424.5,210.5 426.5,215.5 427.5,209.5 429.5,207.5 431.5,197.5 434.5,189.5 436.5,194.5 438.5,188.5 441.5,186.5 444.5,176.5 446.5,169.5 449.5,165.5 452.5,170.5 453.5,176.5 456.5,183.5 458.5,189.5 461.5,194.5 463.5,192.5 464.5,183.5 467.5,173.5 469.5,167.5 472.5,163.5 475.5,161.5 477.5,165.5 477.5,173.5 479.5,178.5 481.5,182.5 483.5,187.5 486.5,192.5 486.5,200.5 487.5,193.5 488.5,183.5 491.5,180.5 492.5,180.5 494.5,188.5 496.5,185.5 498.5,183.5 499.5,187.5 502.5,192.5 504.5,197.5 506.5,205.5 509.5,212.5 511.5,219.5 513.5,229.5 514.5,242.5 516.5,254.5 518.5,267.5 521.5,276.5 524.5,290.5 526.5,302.5 528.5,314.5 530.5,322.5 531.5,331.5 534.5,337.5 537.5,342.5 539.5,346.5 541.5,349.5 543.5,353.5 545.5,348.5 547.5,353.5 550.5,356.5 551.5,352.5 554.5,348.5 556.5,360.5 559.5,366.5 563.5,373.5 564.5,382.5 568.5,388.5 569.5,400.5 572.5,410.5 574.5,418.5 578.5,420.5 580.5,423.5 581.5,430.5 582.5,427.5 584.5,432.5 586.5,439.5 591.5,444.5 596.5,448.5 601.5,450.5 610.5,450.5 611.5,451.5 629.5,451.5 630.5,458.5 632.5,453.5 633.5,458.5 636.5,463.5 639.5,466.5 644.5,469.5 651.5,471.5 656.5,471.5" stroke="#804000" stroke-width="1.15"/>
<polyline points="188,320 190,323 193,323 195,328 209,328 211,332 214,332 217,339 222,340 224,343 228,344 230,348 233,353 235,358 236,364 239,365 241,368 244,372 246,375 250,377 252,380 257,384 261,388 266,389 268,386 272,383 277,380 280,384 283,388 286,390 290,395 294,401 299,402 302,406 304,410 308,414 312,419 316,425 322,426 325,430 329,430 331,434 336,434 338,438 340,434 343,434 346,438 350,439 351,442 353,442 355,436 357,432 360,425 363,422 364,415 366,413 370,413 371,409 372,394 373,393 379,393 380,390 384,388 386,384 388,380 390,374 392,369 394,362 395,352 397,348 400,344 400,333 402,325 403,315 404,308 406,304 410,302 412,296 413,288 416,286 418,281 420,275 422,269 424,264 427,260 430,258 431,252 433,248 434,243 436,241 438,238 438,233 439,221 441,209 444,205 444,197 452,197 454,201 457,196 457,188 460,185 463,179 466,168 468,167 471,163 474,158 475,157 476,160 482,160 484,163 487,167 490,165 492,161 493,160 495,163 496,162 498,160 500,163 502,166 504,168 506,172 507,176 509,178 512,179 513,181 516,184 519,189 520,193 523,198 525,203 528,208 531,212 532,218 534,223 536,230 537,238 539,240 541,244 544,246 545,250 549,253 550,258 554,258 556,262 559,262 562,266 565,272 567,278 570,285 573,292 574,300 577,308 580,315 584,323 587,331 589,338 592,344 597,353 601,360 605,361 607,365 610,369 616,369 619,373 627,373 629,377 634,378 637,382 640,384 644,386 647,389 650,393 657,393" stroke="#007000" stroke-width="2.1"/>
<polyline points="394.5,499.5 396.5,495.5 398.5,495.5 401.5,497.5 403.5,498.5 409.5,498.5" stroke="#000000" stroke-width="1.15"/>
<polyline points="441.5,499.5 443.5,496.5 445.5,498.5 457.5,498.5 459.5,495.5 460.5,498.5 462.5,498.5 465.5,498.5 467.5,496.5 469.5,498.5 478.5,498.5" stroke="#000000" stroke-width="1.15"/>
<rect x="393.5" y="422.5" width="2" height="2" fill="#808080" stroke="none"/>
<rect x="395" y="422.5" width="2" height="2" fill="#808080" stroke="none"/>
<rect x="442" y="422.5" width="2" height="2" fill="#808080" stroke="none"/>
<rect x="458" y="422.5" width="2" height="2" fill="#808080" stroke="none"/>
<rect x="466" y="422.5" width="2" height="2" fill="#808080" stroke="none"/>
</g>
<path d="M188 499.5H657" stroke="#FF8000" stroke-width="1" stroke-dasharray="3 1" shape-rendering="crispEdges"/>
<g shape-rendering="crispEdges">
<rect x="350" y="497" width="2" height="12" fill="#FFFF00"/>
<rect x="510" y="497" width="2" height="12" fill="#FFFF00"/>
<rect x="394" y="497" width="2" height="12" fill="#808080"/>
<rect x="580" y="497" width="2" height="12" fill="#808080"/>
</g>
<path d="M40 529a4.5 5.5 0 0 1 9 0z" fill="#FFFF00"/>
<circle cx="351" cy="525.8" r="3.6" fill="#FFFF00"/>
<g stroke="#FFFF60" stroke-width="1" opacity="0.6"><path d="M351 519.5v2M351 530v2M344.5 525.8h2M355.5 525.8h2M346.5 521.3l1.3 1.3M354.2 529l1.3 1.3M346.5 530.3l1.3-1.3M354.2 522.6l1.3-1.3"/></g>
<rect x="508.5" y="523.5" width="5" height="5" fill="none" stroke="#FFFF00" stroke-width="1"/>
<path d="M392 520.5h3v3.5h2l-3.5 4.5l-3.5-4.5h2z" fill="#FFFF00" stroke="#C8B400" stroke-width="0.5"/>
<path d="M394 528.5h7" stroke="#4040C0" stroke-width="1" stroke-dasharray="1 1"/>
<rect x="576.5" y="520.5" width="5" height="4.5" fill="none" stroke="#4040C0" stroke-width="1" stroke-dasharray="1 1"/>
<path d="M583 521.5l3.5 4.5h-2v4h-3v-4h-2z" fill="#FFFF00" stroke="#C8B400" stroke-width="0.5"/>
<g shape-rendering="crispEdges">
<rect x="1" y="539" width="843" height="76" fill="#C0C0C0"/>
<rect x="87" y="539" width="1" height="76" fill="#FFFFFF"/>
<rect x="88" y="539" width="1" height="76" fill="#A09C8C"/>
<rect x="204" y="539" width="1" height="76" fill="#FFFFFF"/>
<rect x="205" y="539" width="1" height="76" fill="#A09C8C"/>
<rect x="322" y="539" width="1" height="76" fill="#FFFFFF"/>
<rect x="323" y="539" width="1" height="76" fill="#A09C8C"/>
<rect x="440" y="539" width="1" height="76" fill="#FFFFFF"/>
<rect x="441" y="539" width="1" height="76" fill="#A09C8C"/>
<rect x="558" y="539" width="1" height="76" fill="#FFFFFF"/>
<rect x="559" y="539" width="1" height="76" fill="#A09C8C"/>
<rect x="676" y="539" width="1" height="76" fill="#FFFFFF"/>
<rect x="677" y="539" width="1" height="76" fill="#A09C8C"/>
<rect x="794" y="539" width="1" height="76" fill="#FFFFFF"/>
<rect x="795" y="539" width="1" height="76" fill="#A09C8C"/>
<rect x="844" y="538" width="1" height="77" fill="#A8A490"/>
</g>
<text x="9" y="557" fill="#000" font-weight="bold" textLength="38" lengthAdjust="spacingAndGlyphs" font-size="11.6">Sensor</text>
<text x="9" y="573" fill="#000" font-weight="bold" textLength="46.7" lengthAdjust="spacingAndGlyphs" font-size="11.6">MinWert</text>
<text x="9" y="589" fill="#000" font-weight="bold" textLength="49" lengthAdjust="spacingAndGlyphs" font-size="11.6">MaxWert</text>
<text x="9" y="605" fill="#000" font-weight="bold" textLength="71" lengthAdjust="spacingAndGlyphs" font-size="11.6">Durchschnitt</text>
<text x="9" y="621" fill="#000" font-weight="bold" textLength="71" lengthAdjust="spacingAndGlyphs" font-size="11.6">25.12.-22:55</text>
<text x="95.4" y="557" fill="#000" font-weight="bold" textLength="63" lengthAdjust="spacingAndGlyphs" font-size="11.6">T- 2m aktiv</text>
<text x="198.3" y="557" fill="#000" font-weight="bold" text-anchor="end" font-size="11.6">°C</text>
<text x="100.5" y="573" fill="#000">08:15</text>
<text x="198.3" y="573" fill="#000" text-anchor="end">-2.6</text>
<text x="100.5" y="589" fill="#000">14:40</text>
<text x="198.3" y="589" fill="#000" text-anchor="end">4.4</text>
<text x="100.5" y="605" fill="#000" textLength="39" lengthAdjust="spacingAndGlyphs">( - 1.83 )</text>
<text x="198.3" y="605" fill="#000" text-anchor="end">0.37</text>
<text x="198.3" y="621" fill="#FF0000" font-weight="bold" text-anchor="end" font-size="11.6">-1.4</text>
<text x="212.4" y="557" fill="#000" font-weight="bold" textLength="63" lengthAdjust="spacingAndGlyphs" font-size="11.6">F- 2m aktiv</text>
<text x="316" y="557" fill="#000" font-weight="bold" text-anchor="end" font-size="11.6">%</text>
<text x="218.6" y="573" fill="#000">14:50</text>
<text x="316" y="573" fill="#000" text-anchor="end">78</text>
<text x="218.6" y="589" fill="#000">09:00</text>
<text x="316" y="589" fill="#000" text-anchor="end">95</text>
<text x="316" y="605" fill="#000" text-anchor="end">90</text>
<text x="212" y="621" fill="#000">4.85 g/m³</text>
<text x="316" y="621" fill="#000" font-weight="bold" text-anchor="end" font-size="11.6">93</text>
<text x="330.7" y="557" fill="#000" font-weight="bold" textLength="53" lengthAdjust="spacingAndGlyphs" font-size="11.6">Luftdruck</text>
<text x="434.2" y="557" fill="#000" font-weight="bold" text-anchor="end" font-size="11.6">hPa</text>
<text x="336.6" y="573" fill="#000">23:10</text>
<text x="434.2" y="573" fill="#000" text-anchor="end">1034.3</text>
<text x="336.6" y="589" fill="#000">11:30</text>
<text x="434.2" y="589" fill="#000" text-anchor="end">1036.2</text>
<text x="331" y="605" fill="#000">^1.1hPa/h</text>
<text x="434.2" y="605" fill="#000" text-anchor="end">1035.5</text>
<text x="336" y="621" fill="#000" textLength="52" lengthAdjust="spacingAndGlyphs">gleichbleibend</text>
<text x="434.2" y="621" fill="#000" font-weight="bold" text-anchor="end" font-size="11.6">1034.7</text>
<text x="448.4" y="557" fill="#000" font-weight="bold" textLength="57" lengthAdjust="spacingAndGlyphs" font-size="11.6">Windböen</text>
<text x="552.2" y="557" fill="#000" font-weight="bold" text-anchor="end" font-size="11.6">km/h</text>
<text x="448.4" y="573" fill="#000">Ø 10 min.</text>
<text x="552.2" y="573" fill="#000" text-anchor="end">0.0</text>
<text x="454.6" y="589" fill="#000">16:00</text>
<text x="552.2" y="589" fill="#000" text-anchor="end">O 8.0</text>
<text x="552.2" y="605" fill="#000" text-anchor="end">0.7</text>
<text x="455" y="621" fill="#000">0.0% N</text>
<text x="552.2" y="621" fill="#000" font-weight="bold" text-anchor="end" font-size="11.6">0.0</text>
<text x="566.8" y="557" fill="#000" font-weight="bold" textLength="36" lengthAdjust="spacingAndGlyphs" font-size="11.6">Regen</text>
<text x="670.2" y="557" fill="#000" font-weight="bold" text-anchor="end" font-size="11.6">l/m²</text>
<text x="566.8" y="573" fill="#000">6:55 h</text>
<text x="572.8" y="589" fill="#000">00:00</text>
<text x="670.2" y="589" fill="#000" text-anchor="end">0.0</text>
<text x="566.8" y="605" fill="#000">Gesamt:</text>
<text x="670.2" y="605" fill="#000" text-anchor="end">0.0</text>
<text x="569" y="621" fill="#000">0.0 l/m²</text>
<text x="670.2" y="621" fill="#000" font-weight="bold" text-anchor="end" font-size="11.6">0.0</text>
<text x="684.6" y="557" fill="#000" font-weight="bold" textLength="50.5" lengthAdjust="spacingAndGlyphs" font-size="11.6">PMV-1:-1</text>
<text x="684.6" y="573" fill="#000" textLength="53" lengthAdjust="spacingAndGlyphs">WC -1.4 °C</text>
<text x="684.6" y="589" fill="#000" textLength="49" lengthAdjust="spacingAndGlyphs">TP -2.5 °C</text>
<text x="684.6" y="605" fill="#000" textLength="53" lengthAdjust="spacingAndGlyphs">-0.5hPa/3h</text>
<text x="684.6" y="621" fill="#000">0.3hPa/1h</text>
<text x="10.7" y="529.5" fill="#000" textLength="26.2" lengthAdjust="spacingAndGlyphs">08:09</text>
<text x="317.7" y="529.5" fill="#000" textLength="26.1" lengthAdjust="spacingAndGlyphs">08:20</text>
<text x="402.3" y="529.5" fill="#000" textLength="26.2" lengthAdjust="spacingAndGlyphs">10:33</text>
<text x="477.7" y="529.5" fill="#000" textLength="26.1" lengthAdjust="spacingAndGlyphs">16:30</text>
<text x="587.7" y="529.5" fill="#000" textLength="26.3" lengthAdjust="spacingAndGlyphs">20:04</text>
</svg></body></html>
